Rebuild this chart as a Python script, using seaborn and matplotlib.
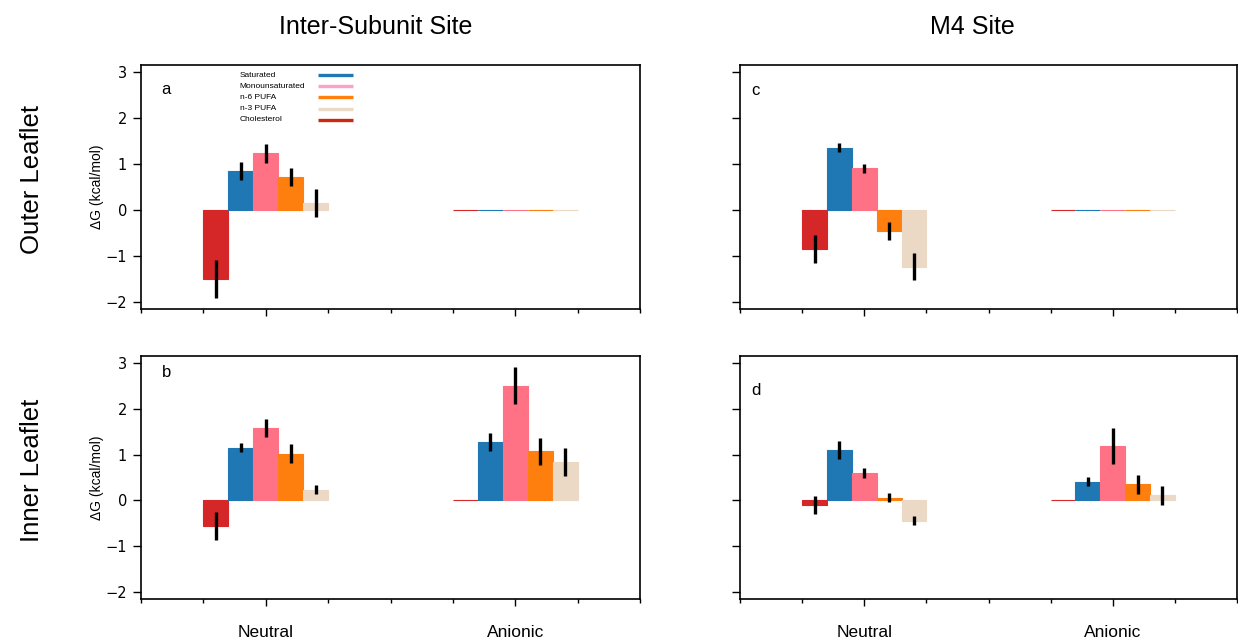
"""Free energy of lipid binding at the inter-subunit and M4 sites."""

import matplotlib

matplotlib.use("Agg")
import matplotlib.pyplot as plt
import numpy as np
import pandas as pd
import seaborn as sns
from matplotlib.lines import Line2D

lipids = ["Cholesterol", "Saturated", "Monounsaturated", "n-6 PUFA", "n-3 PUFA"]
headgroups = ["Neutral", "Anionic"]

# ΔG in kcal/mol, lipids in the order above
inter_outer_neutral = [-1.50, 0.85, 1.23, 0.72, 0.15]
inter_outer_neutral_err = [0.41, 0.20, 0.20, 0.20, 0.30]
inter_outer_anionic = [0.0, 0.0, 0.0, 0.0, 0.0]
inter_outer_anionic_err = [0.0, 0.0, 0.0, 0.0, 0.0]

inter_inner_neutral = [-0.56, 1.15, 1.58, 1.02, 0.23]
inter_inner_neutral_err = [0.30, 0.10, 0.20, 0.20, 0.10]
inter_inner_anionic = [0.0, 1.28, 2.50, 1.07, 0.84]
inter_inner_anionic_err = [0.0, 0.20, 0.40, 0.30, 0.30]

m4_outer_neutral = [-0.85, 1.35, 0.91, -0.45, -1.23]
m4_outer_neutral_err = [0.30, 0.10, 0.10, 0.20, 0.30]
m4_outer_anionic = [0.0, 0.0, 0.0, 0.0, 0.0]
m4_outer_anionic_err = [0.0, 0.0, 0.0, 0.0, 0.0]

m4_inner_neutral = [-0.10, 1.10, 0.60, 0.06, -0.44]
m4_inner_neutral_err = [0.20, 0.20, 0.10, 0.10, 0.10]
m4_inner_anionic = [0.0, 0.41, 1.19, 0.35, 0.11]
m4_inner_anionic_err = [0.0, 0.10, 0.40, 0.20, 0.20]

bar_colors = {
    "Cholesterol": "#d62728",
    "Saturated": "#1f77b4",
    "Monounsaturated": "#ff7285",
    "n-6 PUFA": "#ff7f0e",
    "n-3 PUFA": "#ebd9c6",
}
legend_order = ["Saturated", "Monounsaturated", "n-6 PUFA", "n-3 PUFA", "Cholesterol"]
legend_colors = ["#1f77b4", "#ffa0c8", "#ff800e", "#eadbc8", "#c9290f"]

ARIAL = ["Liberation Sans", "DejaVu Sans"]


def make_frame(neutral, neutral_err, anionic, anionic_err):
    rows = []
    for hg, vals, errs in [("Neutral", neutral, neutral_err), ("Anionic", anionic, anionic_err)]:
        for lipid, v, e in zip(lipids, vals, errs):
            rows.append({"headgroup": hg, "lipid": lipid, "dG": v, "err": e})
    return pd.DataFrame(rows)


def draw_panel(ax, df, letter, letter_pos, show_x, show_y):
    sns.barplot(data=df, x="headgroup", y="dG", hue="lipid", order=headgroups,
                hue_order=lipids, palette=bar_colors, width=0.5, saturation=1,
                errorbar=None, legend=False, ax=ax)
    for lipid, container in zip(lipids, ax.containers):
        sub = df[df["lipid"] == lipid].set_index("headgroup").loc[headgroups]
        for bar, (_, row) in zip(container, sub.iterrows()):
            bar.set_edgecolor(bar.get_facecolor())
            bar.set_linewidth(0.8)
            if row["err"] > 0:
                ax.errorbar(bar.get_x() + bar.get_width() / 2, row["dG"], yerr=row["err"],
                            color="black", lw=2.4, capsize=0, zorder=5)
    ax.set_xlim(-0.5, 1.5)
    ax.set_ylim(-2.15, 3.15)
    ax.set_yticks([-2, -1, 0, 1, 2, 3])
    ax.set_xticks([0, 1])
    ax.set_xticks(np.arange(-0.5, 1.51, 0.25), minor=True)
    ax.tick_params(axis="x", which="major", length=5, width=1, pad=14)
    ax.tick_params(axis="x", which="minor", length=3, width=1)
    ax.tick_params(axis="y", length=6, width=1, labelsize=10.5, pad=4)
    ax.set_xlabel("")
    if show_x:
        ax.set_xticklabels(headgroups, fontsize=12.5, family=ARIAL)
    else:
        ax.tick_params(axis="x", labelbottom=False)
    if show_y:
        ax.set_ylabel("ΔG (kcal/mol)", fontsize=10, family=ARIAL, labelpad=1)
    else:
        ax.set_ylabel("")
        ax.tick_params(axis="y", labelleft=False)
    for spine in ax.spines.values():
        spine.set_color("black")
        spine.set_linewidth(1.2)
    ax.text(letter_pos[0], letter_pos[1], letter, transform=ax.transAxes,
            ha="left", va="center", fontsize=12, family=ARIAL)


sns.set_style("ticks")
plt.rcParams.update({
    "text.color": "black",
    "axes.labelcolor": "black",
    "xtick.color": "black",
    "ytick.color": "black",
})

fig = plt.figure(figsize=(12.38, 6.41), dpi=100)
W, H = 1238, 641


def px_axes(left, top, right, bottom):
    return fig.add_axes([left / W, 1 - bottom / H, (right - left) / W, (bottom - top) / H])


ax_a = px_axes(141, 65, 640, 309)
ax_b = px_axes(141, 356, 640, 599)
ax_c = px_axes(740, 65, 1237, 309)
ax_d = px_axes(740, 356, 1237, 599)

draw_panel(ax_a, make_frame(inter_outer_neutral, inter_outer_neutral_err,
                            inter_outer_anionic, inter_outer_anionic_err),
           "a", (0.041, 0.898), False, True)
draw_panel(ax_b, make_frame(inter_inner_neutral, inter_inner_neutral_err,
                            inter_inner_anionic, inter_inner_anionic_err),
           "b", (0.041, 0.934), True, True)
draw_panel(ax_c, make_frame(m4_outer_neutral, m4_outer_neutral_err,
                            m4_outer_anionic, m4_outer_anionic_err),
           "c", (0.023, 0.894), False, False)
draw_panel(ax_d, make_frame(m4_inner_neutral, m4_inner_neutral_err,
                            m4_inner_anionic, m4_inner_anionic_err),
           "d", (0.022, 0.86), True, False)

# legend drawn as a small text/line table, handles on the right
for i, (name, color) in enumerate(zip(legend_order, legend_colors)):
    y = 0.959 - i * 0.0459
    ax_a.text(0.198, y, name, transform=ax_a.transAxes, ha="left", va="center",
              fontsize=6, family=ARIAL)
    ax_a.add_line(Line2D([0.355, 0.425], [y, y], transform=ax_a.transAxes,
                         color=color, lw=2.4, solid_capstyle="butt"))

fig.text(376 / W, 1 - 27 / H, "Inter-Subunit Site", ha="center", va="center",
         fontsize=18, family=ARIAL)
fig.text(972 / W, 1 - 27 / H, "M4 Site", ha="center", va="center",
         fontsize=18, family=ARIAL)
fig.text(32 / W, 1 - 180 / H, "Outer Leaflet", ha="center", va="center",
         rotation=90, fontsize=18.5, family=ARIAL)
fig.text(32 / W, 1 - 470 / H, "Inner Leaflet", ha="center", va="center",
         rotation=90, fontsize=18.5, family=ARIAL)

fig.savefig("out.png", dpi=100)
plt.close(fig)
